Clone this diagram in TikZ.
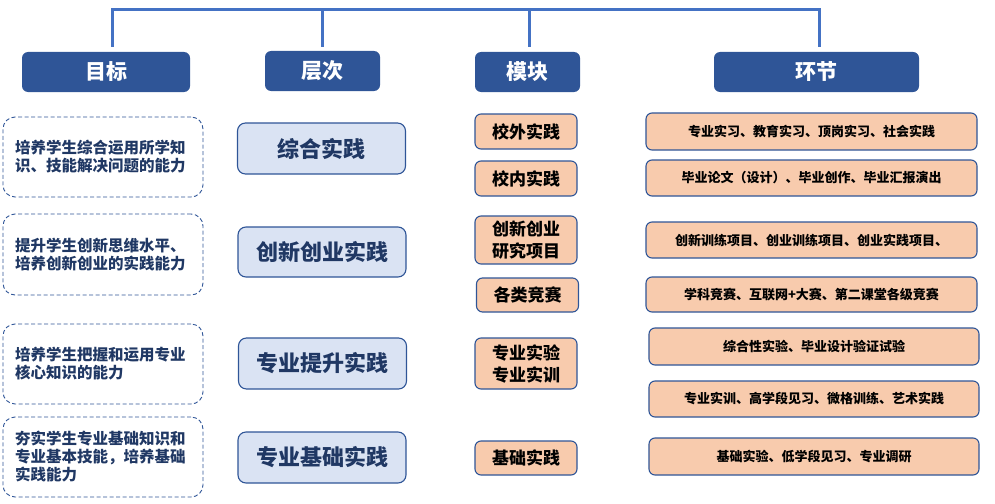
\documentclass[tikz,border=0pt]{standalone}
\usepackage{fontspec}
\setmainfont{Noto Sans CJK SC}
\definecolor{headblue}{HTML}{2F5597}
\definecolor{lineblue}{HTML}{4472C4}
\definecolor{navy}{HTML}{203864}
\definecolor{paleblue}{HTML}{DAE3F3}
\definecolor{peach}{HTML}{F8CBAD}
\tikzset{
  headbox/.style={draw=none,fill=headblue,rounded corners=6pt,text=white,
    font=\fontsize{21}{24}\selectfont\bfseries},
  goalbox/.style={draw=headblue,dash pattern=on 4pt off 2.5pt,line width=0.9pt,rounded corners=12pt,
    text=navy,align=left,text width=176pt,inner xsep=12pt,minimum height=80pt,
    font=\fontsize{15.5}{18}\selectfont\bfseries},
  tierbox/.style={draw=headblue,line width=1.1pt,fill=paleblue,rounded corners=8pt,
    text=navy,minimum width=168pt,minimum height=51pt,
    font=\fontsize{22}{24}\selectfont\bfseries},
  modbox/.style={draw=headblue,line width=1.1pt,fill=peach,rounded corners=6pt,
    align=center,minimum width=102pt,minimum height=35pt,inner sep=2pt,
    font=\fontsize{17}{22}\selectfont\bfseries},
  stagebox/.style={draw=headblue,line width=1.1pt,fill=peach,rounded corners=6pt,
    minimum width=331pt,minimum height=36pt,
    font=\fontsize{13}{15}\selectfont\bfseries},
  bracket/.style={draw=lineblue,line width=3pt}
}
\begin{document}
\begin{tikzpicture}[x=1pt,y=-1pt]
  \useasboundingbox (0,0) rectangle (995,503);
  % headers
  \node[headbox,minimum width=168pt,minimum height=40pt] (hgoal) at (106,72) {目标};
  \node[headbox,minimum width=115pt,minimum height=40pt] (hlevel) at (322.5,71) {层次};
  \node[headbox,minimum width=105pt,minimum height=40pt] (hmod) at (527.5,72) {模块};
  \node[headbox,minimum width=205pt,minimum height=40pt] (hstage) at (816.5,72) {环节};
  % bracket over the headers
  \coordinate (btop) at (112,10);
  \draw[bracket] ([xshift=6pt,yshift=5pt]hgoal.north) -- ([xshift=6pt]hgoal.north |- btop)
    -- ([xshift=3pt]hstage.north |- btop) -- ([xshift=3pt,yshift=5pt]hstage.north);
  \draw[bracket] (hlevel.north |- btop) -- ([yshift=4pt]hlevel.north);
  \draw[bracket] ([xshift=1.5pt]hmod.north |- btop) -- ([xshift=1.5pt,yshift=5pt]hmod.north);
  % goals
  \node[goalbox] (g1) at (103,157) {培养学生综合运用所学知\\识、技能解决问题的能力};
  \node[goalbox,minimum height=81pt] (g2) at (103,254.5) {提升学生创新思维水平、\\培养创新创业的实践能力};
  \node[goalbox] (g3) at (103,364) {培养学生把握和运用专业\\核心知识的能力};
  \node[goalbox] (g4) at (103,457) {夯实学生专业基础知识和\\专业基本技能，培养基础\\实践能力};
  % levels
  \node[tierbox] (t1) at (321.5,148.5) {综合实践};
  \node[tierbox,minimum height=50pt] (t2) at (322,252) {创新创业实践};
  \node[tierbox] (t3) at (322.5,363.5) {专业提升实践};
  \node[tierbox] (t4) at (322,457.5) {专业基础实践};
  % modules
  \node[modbox] (m1) at (526,131.5) {校外实践};
  \node[modbox] (m2) at (526,178.5) {校内实践};
  \node[modbox,minimum height=48pt] (m3) at (526,240) {创新创业\\研究项目};
  \node[modbox,minimum height=34pt] (m4) at (527.5,295) {各类竞赛};
  \node[modbox,minimum height=51pt] (m5) at (526,363.5) {专业实验\\专业实训};
  \node[modbox,minimum height=34pt] (m6) at (526,458) {基础实践};
  % stages
  \node[stagebox,minimum height=37pt] (s1) at (811.5,131.5) {专业实习、教育实习、顶岗实习、社会实践};
  \node[stagebox] (s2) at (811.5,178) {毕业论文（设计）、毕业创作、毕业汇报演出};
  \node[stagebox] (s3) at (811.5,240) {创新训练项目、创业训练项目、创业实践项目、};
  \node[stagebox,minimum height=35pt] (s4) at (811.5,294.5) {学科竞赛、互联网+大赛、第二课堂各级竞赛};
  \node[stagebox,minimum width=330pt,minimum height=37pt] (s5) at (814,346.5) {综合性实验、毕业设计验证试验};
  \node[stagebox,minimum width=330pt] (s6) at (814,399) {专业实训、高学段见习、微格训练、艺术实践};
  \node[stagebox,minimum width=330pt,minimum height=37pt] (s7) at (814,456.5) {基础实验、低学段见习、专业调研};
\end{tikzpicture}
\end{document}
